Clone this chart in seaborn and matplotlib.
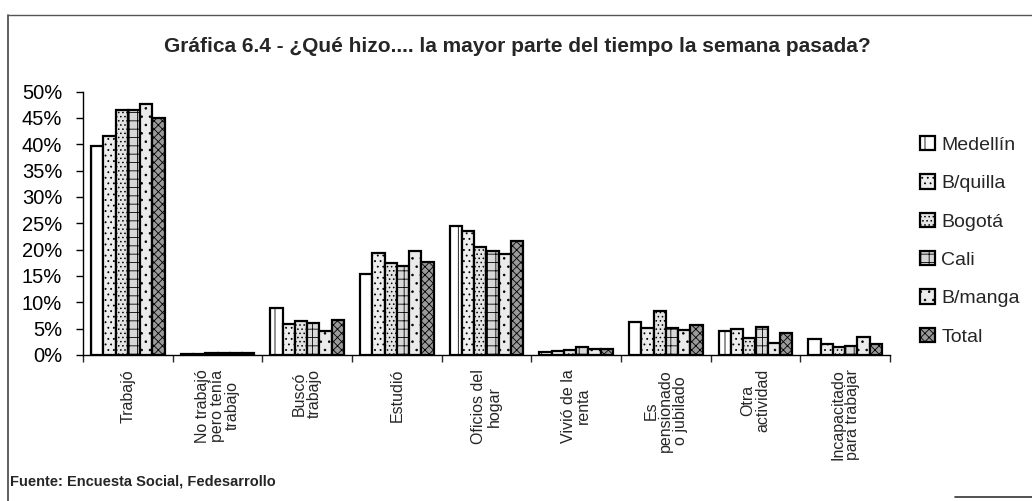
import matplotlib
matplotlib.use("Agg")
import matplotlib.pyplot as plt
import matplotlib.ticker as mticker
from matplotlib.lines import Line2D
import numpy as np
import pandas as pd
import seaborn as sns

# Activities (x categories)
activities = [
    "Trabajó",
    "No trabajó\npero tenía\ntrabajo",
    "Buscó\ntrabajo",
    "Estudió",
    "Oficios del\nhogar",
    "Vivió de la\nrenta",
    "Es\npensionado\no jubilado",
    "Otra\nactividad",
    "Incapacitado\npara trabajar",
]

cities = ["Medellín", "B/quilla", "Bogotá", "Cali", "B/manga", "Total"]

# Percent of respondents per activity, one list per city
medellin = [39.7, 0.1, 8.9, 15.4, 24.4, 0.6, 6.2, 4.5, 3.0]
barranquilla = [41.5, 0.1, 5.9, 19.3, 23.5, 0.7, 5.2, 4.9, 2.0]
bogota = [46.4, 0.4, 6.4, 17.5, 20.5, 1.0, 8.4, 3.3, 1.5]
cali = [46.4, 0.4, 6.0, 16.9, 19.8, 1.6, 5.2, 5.3, 1.8]
bucaramanga = [47.7, 0.4, 4.5, 19.7, 19.2, 1.1, 4.8, 2.2, 3.4]
total = [44.9, 0.4, 6.6, 17.7, 21.6, 1.1, 5.7, 4.2, 2.1]

series = [medellin, barranquilla, bogota, cali, bucaramanga, total]

y_ticks = [0, 5, 10, 15, 20, 25, 30, 35, 40, 45, 50]

rows = []
for city, vals in zip(cities, series):
    for act, v in zip(activities, vals):
        rows.append({"actividad": act, "ciudad": city, "pct": v / 100.0})
df = pd.DataFrame(rows)

sns.set_theme(style="white")
plt.rcParams["font.family"] = ["Liberation Sans", "DejaVu Sans"]
plt.rcParams["hatch.linewidth"] = 0.6

fig = plt.figure(figsize=(10.32, 5.01), dpi=100)
ax = fig.add_axes([83 / 1032, 1 - 355 / 501, (890 - 83) / 1032, (355 - 91.5) / 501])

sns.barplot(
    data=df, x="actividad", y="pct", hue="ciudad",
    order=activities, hue_order=cities,
    palette=["white"] * 6, width=0.82, legend=False,
    edgecolor="black", linewidth=1.6, ax=ax, errorbar=None,
)

# Grey screen textures for each series
faces = ["#ffffff", "#eeeeee", "#e4e4e4", "#d8d8d8", "#ebebeb", "#9a9a9a"]
hatches = ["|", "...", "....", "++", "..", "xxxx"]
for cont, fc, h in zip(ax.containers, faces, hatches):
    for p in cont.patches:
        p.set_facecolor(fc)
        p.set_hatch(h)
        p.set_edgecolor("black")

ax.set_ylim(0, 0.5)
ax.set_xlim(-0.5, len(activities) - 0.5)
ax.set_yticks([t / 100 for t in y_ticks])
ax.yaxis.set_major_formatter(mticker.PercentFormatter(1.0, decimals=0))
ax.tick_params(axis="y", which="major", length=5, width=1, direction="out",
               left=True, labelsize=14.5, pad=10, colors="black")
ax.set_xticks(np.arange(-0.5, len(activities), 1.0), minor=True)
ax.tick_params(axis="x", which="minor", length=5, width=1, direction="out", bottom=True)
ax.tick_params(axis="x", which="major", length=0, pad=10)
ax.set_xticklabels(activities, rotation=90, ha="center", va="top",
                   multialignment="center", fontsize=11.5, linespacing=1.0)
ax.set_xlabel("")
ax.set_ylabel("")
for s in ["top", "right"]:
    ax.spines[s].set_visible(False)
for s in ["left", "bottom"]:
    ax.spines[s].set_color("black")
    ax.spines[s].set_linewidth(1.0)

ax.legend(ax.containers, cities, loc="upper left",
          bbox_to_anchor=(920 / 1032, 1 - 136 / 501), bbox_transform=fig.transFigure,
          frameon=False, fontsize=14, handlelength=0.75, handleheight=0.75,
          handletextpad=0.35, labelspacing=1.05, borderpad=0, borderaxespad=0)

fig.text(517 / 1032, 1 - 46 / 501,
         "Gráfica 6.4 - ¿Qué hizo.... la mayor parte del tiempo la semana pasada?",
         ha="center", va="center", fontsize=15, fontweight="bold")
fig.text(10 / 1032, 1 - 481 / 501, "Fuente: Encuesta Social, Fedesarrollo",
         ha="left", va="center", fontsize=10.5, fontweight="bold")

# Outer frame of the figure panel
fig.add_artist(Line2D([8 / 1032, 8 / 1032], [0, 1 - 15 / 501],
                      transform=fig.transFigure, color="#444444", lw=1.2))
fig.add_artist(Line2D([8 / 1032, 1], [1 - 15 / 501, 1 - 15 / 501],
                      transform=fig.transFigure, color="#555555", lw=1.0))
fig.add_artist(Line2D([955 / 1032, 1], [1 - 497 / 501, 1 - 497 / 501],
                      transform=fig.transFigure, color="#333333", lw=1.2))

fig.savefig("out.png", dpi=100)
